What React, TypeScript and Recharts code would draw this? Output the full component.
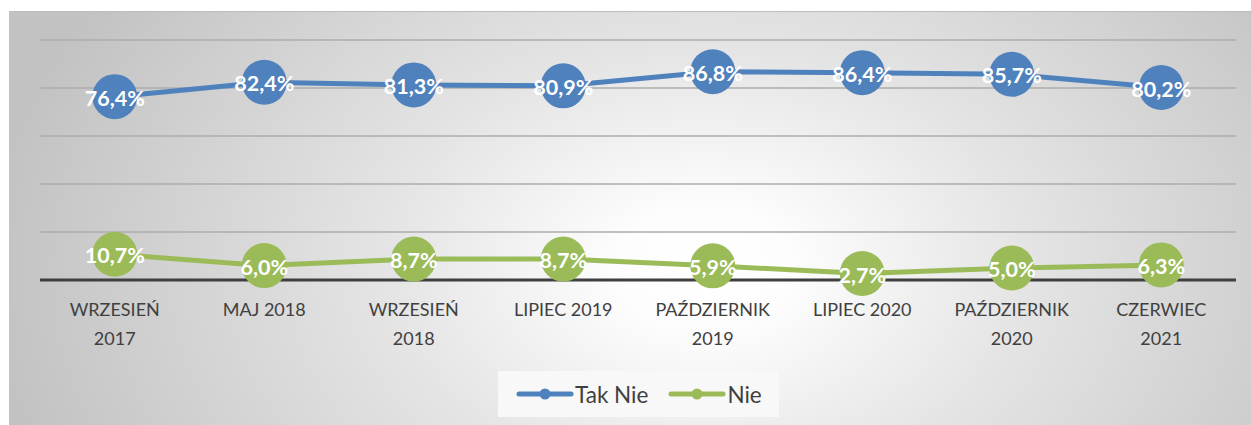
import React from "react";
import { LineChart, Line, XAxis, YAxis, CartesianGrid, LabelList } from "recharts";

const categories = [
  "WRZESIEŃ\n2017",
  "MAJ 2018",
  "WRZESIEŃ\n2018",
  "LIPIEC 2019",
  "PAŹDZIERNIK\n2019",
  "LIPIEC 2020",
  "PAŹDZIERNIK\n2020",
  "CZERWIEC\n2021",
];
const takNie = [76.4, 82.4, 81.3, 80.9, 86.8, 86.4, 85.7, 80.2];
const nie = [10.7, 6.0, 8.7, 8.7, 5.9, 2.7, 5.0, 6.3];
const yTicks = [0, 20, 40, 60, 80, 100];
const seriesNames = ["Tak Nie", "Nie"];

const BLUE = "#4F81BD";
const GREEN = "#9BBB59";

const data = categories.map((c, i) => ({ cat: c, takNie: takNie[i], nie: nie[i] }));

const fmt = (v: number) => v.toFixed(1).replace(".", ",") + "%";

const Tick = (props: any) => {
  const { x, y, payload } = props;
  const lines = String(payload.value).split("\n");
  return (
    <g>
      {lines.map((l: string, i: number) => (
        <text
          key={i}
          x={x}
          y={y + 21 + i * 29}
          textAnchor="middle"
          dominantBaseline="central"
          fill="#404040"
          fontFamily="Lato, sans-serif"
          fontSize={18}
        >
          {l}
        </text>
      ))}
    </g>
  );
};

const DataLabel = (props: any) => {
  const { x, y, value } = props;
  return (
    <text
      x={x}
      y={y + 1}
      textAnchor="middle"
      dominantBaseline="central"
      fill="#ffffff"
      fontFamily="Lato, sans-serif"
      fontWeight={700}
      fontSize={21.5}
    >
      {fmt(value)}
    </text>
  );
};

const LegendIcon = ({ color }: { color: string }) => (
  <svg width={58} height={14} style={{ display: "block" }}>
    <line x1={3} y1={7} x2={55} y2={7} stroke={color} strokeWidth={5} strokeLinecap="round" />
    <circle cx={29} cy={7} r={5.5} fill={color} />
  </svg>
);

export default function App() {
  return (
    <div
      style={{
        position: "absolute",
        left: 9,
        top: 11,
        width: 1242,
        height: 414,
        borderTop: "1px solid #bdbdbd",
        background:
          "radial-gradient(ellipse 58% 120% at 56% 62%, #ffffff 0%, #fdfdfd 12%, #e4e4e4 45%, #c2c2c2 100%)",
      }}
    >
      <LineChart
        width={1242}
        height={414}
        data={data}
        margin={{ top: 28, right: 15, bottom: 0, left: 31 }}
      >
        <CartesianGrid vertical={false} stroke="#adadad" strokeWidth={1.4} />
        <YAxis hide domain={[0, 100]} ticks={yTicks} />
        <XAxis
          dataKey="cat"
          height={146}
          axisLine={{ stroke: "#3f3f3f", strokeWidth: 3 }}
          tickLine={false}
          tick={<Tick />}
          interval={0}
          padding={{ left: 74.75, right: 74.75 }}
        />
        <Line
          dataKey="takNie"
          name={seriesNames[0]}
          stroke={BLUE}
          strokeWidth={5}
          dot={{ r: 22.5, fill: BLUE, stroke: "none" }}
          activeDot={false}
          isAnimationActive={false}
        >
          <LabelList dataKey="takNie" content={<DataLabel />} />
        </Line>
        <Line
          dataKey="nie"
          name={seriesNames[1]}
          stroke={GREEN}
          strokeWidth={5}
          dot={{ r: 22.5, fill: GREEN, stroke: "none" }}
          activeDot={false}
          isAnimationActive={false}
        >
          <LabelList dataKey="nie" content={<DataLabel />} />
        </Line>
      </LineChart>
      <div
        style={{
          position: "absolute",
          left: 489,
          top: 359,
          width: 281,
          height: 46,
          background: "#f8f8f8",
          display: "flex",
          alignItems: "center",
          fontFamily: "Lato, sans-serif",
          fontSize: 22.5,
          color: "#404040",
        }}
      >
        <div style={{ marginLeft: 18 }}>
          <LegendIcon color={BLUE} />
        </div>
        <span style={{ marginLeft: 1 }}>{seriesNames[0]}</span>
        <div style={{ marginLeft: 20 }}>
          <LegendIcon color={GREEN} />
        </div>
        <span style={{ marginLeft: 1 }}>{seriesNames[1]}</span>
      </div>
    </div>
  );
}
